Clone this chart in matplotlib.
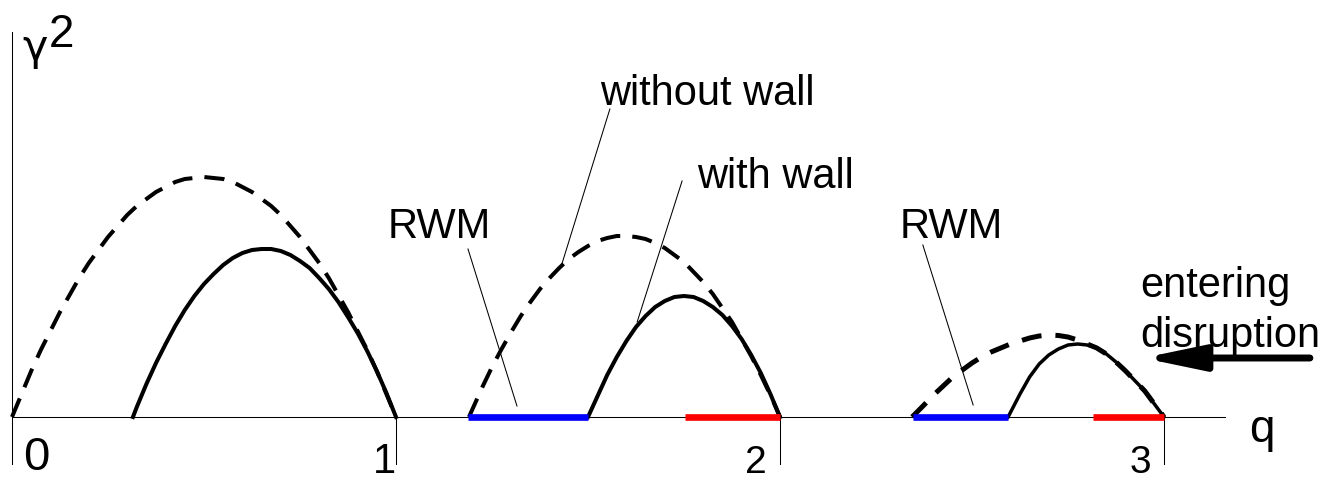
import matplotlib
matplotlib.use("Agg")
import matplotlib.pyplot as plt

plt.rcParams['font.family'] = ['Liberation Sans', 'DejaVu Sans']

# growth rate curves: gamma^2 versus q (dashed = without wall, solid = with wall)
q_dash1 = [0.0, 0.025, 0.05, 0.075, 0.10, 0.125, 0.15, 0.175, 0.20, 0.225,
           0.25, 0.275, 0.30, 0.325, 0.35, 0.375, 0.40, 0.425, 0.45, 0.475,
           0.50, 0.525, 0.55, 0.575, 0.60, 0.625, 0.65, 0.675, 0.70, 0.725,
           0.75, 0.775, 0.80, 0.825, 0.85, 0.875, 0.90, 0.925, 0.95, 0.975, 1.0]
g_dash1 = [0, 0.23, 0.46, 0.67, 0.86, 1.05, 1.22, 1.39, 1.54, 1.67,
           1.80, 1.91, 2.02, 2.11, 2.18, 2.25, 2.30, 2.35, 2.38, 2.39,
           2.40, 2.39, 2.38, 2.35, 2.30, 2.25, 2.18, 2.11, 2.02, 1.91,
           1.80, 1.67, 1.54, 1.39, 1.22, 1.05, 0.86, 0.67, 0.46, 0.23, 0]

q_solid1 = [0.315, 0.325, 0.35, 0.375, 0.40, 0.425, 0.45, 0.475, 0.50, 0.525,
            0.55, 0.575, 0.60, 0.625, 0.65, 0.675, 0.70, 0.725, 0.75, 0.775,
            0.80, 0.825, 0.85, 0.875, 0.90, 0.925, 0.95, 0.975, 1.0]
g_solid1 = [0, 0.10, 0.33, 0.54, 0.73, 0.91, 1.07, 1.21, 1.33, 1.43,
            1.52, 1.59, 1.64, 1.67, 1.68, 1.68, 1.66, 1.62, 1.56, 1.49,
            1.39, 1.28, 1.15, 1.00, 0.84, 0.66, 0.46, 0.24, 0]

q_dash2 = [1.19, 1.225, 1.25, 1.275, 1.30, 1.325, 1.35, 1.375, 1.40, 1.425,
           1.45, 1.475, 1.50, 1.525, 1.55, 1.575, 1.60, 1.625, 1.65, 1.675,
           1.70, 1.725, 1.75, 1.775, 1.80, 1.825, 1.85, 1.875, 1.90, 1.925,
           1.95, 1.975, 2.0]
g_dash2 = [0, 0.30, 0.50, 0.68, 0.85, 1.01, 1.15, 1.28, 1.39, 1.49,
           1.58, 1.65, 1.71, 1.76, 1.79, 1.81, 1.81, 1.80, 1.78, 1.74,
           1.69, 1.62, 1.55, 1.45, 1.35, 1.23, 1.09, 0.95, 0.78, 0.61,
           0.42, 0.22, 0]

q_solid2 = [1.50, 1.525, 1.55, 1.575, 1.60, 1.625, 1.65, 1.675, 1.70, 1.725,
            1.75, 1.775, 1.80, 1.825, 1.85, 1.875, 1.90, 1.925, 1.95, 1.975, 2.0]
g_solid2 = [0, 0.21, 0.42, 0.60, 0.76, 0.90, 1.01, 1.10, 1.16, 1.20,
            1.21, 1.20, 1.16, 1.10, 1.02, 0.91, 0.78, 0.62, 0.44, 0.23, 0]

q_dash3 = [2.344, 2.375, 2.40, 2.425, 2.45, 2.475, 2.50, 2.525, 2.55, 2.575,
           2.60, 2.625, 2.65, 2.675, 2.70, 2.725, 2.75, 2.775, 2.80, 2.825,
           2.85, 2.875, 2.90, 2.925, 2.95, 2.975, 3.0]
g_dash3 = [0, 0.12, 0.22, 0.31, 0.40, 0.47, 0.54, 0.60, 0.65, 0.69,
           0.73, 0.76, 0.79, 0.81, 0.82, 0.815, 0.80, 0.77, 0.73, 0.69,
           0.63, 0.55, 0.46, 0.36, 0.26, 0.13, 0]

q_solid3 = [2.594, 2.625, 2.65, 2.675, 2.70, 2.725, 2.75, 2.775, 2.80, 2.825,
            2.85, 2.875, 2.90, 2.925, 2.95, 2.975, 3.0]
g_solid3 = [0, 0.23, 0.40, 0.53, 0.62, 0.68, 0.72, 0.73, 0.72, 0.69,
            0.63, 0.55, 0.46, 0.36, 0.26, 0.13, 0]

# q intervals: resistive wall mode (blue) and unstable with wall (red)
rwm_ranges = [(1.1875, 1.50), (2.346, 2.594)]
unstable_ranges = [(1.7526, 2.0), (2.815, 3.0)]

q_ticks = [1, 2, 3]
q_tick_labels = ['1', '2', '3']

fig = plt.figure(figsize=(13.25, 4.81), dpi=100)
ax = fig.add_axes([0, 0, 1, 1])
ax.set_xlim(-0.03125, 3.4193)
ax.set_ylim(-0.63, 4.18)
ax.axis('off')

# axes drawn by hand
ax.plot([0, 3.159], [0, 0], color='black', lw=0.75)
ax.plot([0, 0], [-0.47, 3.85], color='black', lw=0.75)
for t in q_ticks:
    ax.plot([t, t], [0, -0.47], color='black', lw=0.75)

for a, b in rwm_ranges:
    ax.plot([a, b], [0, 0], color='#0000ff', lw=4.8, solid_capstyle='butt', zorder=3)
for a, b in unstable_ranges:
    ax.plot([a, b], [0, 0], color='#ff0000', lw=4.8, solid_capstyle='butt', zorder=3)

ax.plot(q_dash1, g_dash1, color='black', lw=2.9, linestyle=(0, (5, 3)))
ax.plot(q_dash2, g_dash2, color='black', lw=2.9, linestyle=(0, (5, 3)))
ax.plot(q_dash3, g_dash3, color='black', lw=3.6, linestyle=(0, (4, 2.8)))
ax.plot(q_solid1, g_solid1, color='black', lw=2.9, solid_joinstyle='round')
ax.plot(q_solid2, g_solid2, color='black', lw=2.9, solid_joinstyle='round')
ax.plot(q_solid3, g_solid3, color='black', lw=2.5, solid_joinstyle='round')

# axis labels and tick numbers
ax.text(0.026, 3.58, 'γ', fontsize=31, ha='left', va='baseline', family='DejaVu Sans')
ax.text(0.096, 3.71, '2', fontsize=33, ha='left', va='baseline')
ax.text(0.029, -0.52, '0', fontsize=34, ha='left', va='baseline')
ax.text(3.221, -0.24, 'q', fontsize=33, ha='left', va='baseline')
tick_sizes = [30, 28, 28]
tick_x = [0.969, 1.9375, 2.9375]
for x, lab, fs in zip(tick_x, q_tick_labels, tick_sizes):
    ax.text(x, -0.55, lab, fontsize=fs, ha='center', va='baseline')

# annotations with leader lines
lab_fs = 30
ax.text(1.531, 3.13, 'without wall', fontsize=lab_fs, va='baseline')
ax.plot([1.557, 1.432], [3.08, 1.53], color='black', lw=0.75)
ax.text(1.784, 2.30, 'with wall', fontsize=lab_fs, va='baseline')
ax.plot([1.745, 1.628], [2.36, 0.95], color='black', lw=0.75)
ax.text(0.979, 1.80, 'RWM', fontsize=lab_fs, va='baseline')
ax.plot([1.1875, 1.315], [1.68, 0.11], color='black', lw=0.75)
ax.text(2.3125, 1.80, 'RWM', fontsize=lab_fs, va='baseline')
ax.plot([2.372, 2.503], [1.72, 0.12], color='black', lw=0.75)

ax.text(2.9375, 1.21, 'entering', fontsize=lab_fs, va='baseline')
ax.text(2.9375, 0.71, 'disruption', fontsize=lab_fs, va='baseline')
ax.annotate('', xy=(2.945, 0.59), xytext=(3.380, 0.59),
            arrowprops=dict(arrowstyle='-|>,head_length=3.6,head_width=0.75',
                            color='black', lw=5, shrinkA=0, shrinkB=0))

fig.savefig('out.png', dpi=100)
